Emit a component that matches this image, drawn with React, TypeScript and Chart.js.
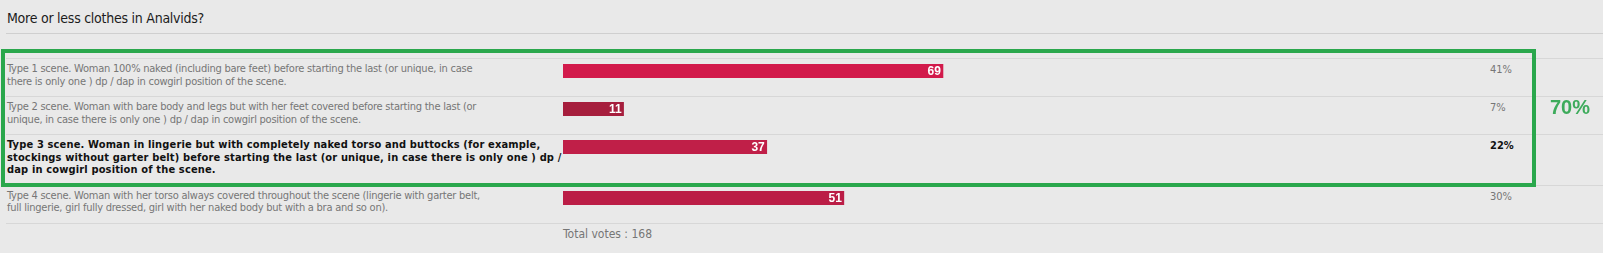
import React, { useEffect, useRef } from "react";
import { Chart, registerables } from "chart.js";

Chart.register(...registerables);

const TITLE = "More or less clothes in Analvids?";
const OPTION_LINES: string[][] = [
  [
    "Type 1 scene. Woman 100% naked (including bare feet) before starting the last (or unique, in case",
    "there is only one ) dp / dap in cowgirl position of the scene.",
  ],
  [
    "Type 2 scene. Woman with bare body and legs but with her feet covered before starting the last (or",
    "unique, in case there is only one ) dp / dap in cowgirl position of the scene.",
  ],
  [
    "Type 3 scene. Woman in lingerie but with completely naked torso and buttocks (for example,",
    "stockings without garter belt) before starting the last (or unique, in case there is only one ) dp /",
    "dap in cowgirl position of the scene.",
  ],
  [
    "Type 4 scene. Woman with her torso always covered throughout the scene (lingerie with garter belt,",
    "full lingerie, girl fully dressed, girl with her naked body but with a bra and so on).",
  ],
];
const VOTES = [69, 11, 37, 51];
const BAR_COLORS = ["#d21a4b", "#a61e3d", "#c01f48", "#bb1d46"];
const VOTED = [false, false, true, false];
const HIGHLIGHTED = [true, true, true, false];
const TOTAL_LABEL = "Total votes : ";
const X_MAX = 150;

const TOTAL = VOTES.reduce((a, b) => a + b, 0);
const PERCENTS = VOTES.map((v) => Math.round((v / TOTAL) * 100));
const HIGHLIGHT_SUM = PERCENTS.reduce((a, p, i) => (HIGHLIGHTED[i] ? a + p : a), 0);

const FONT = '"DejaVu Sans Condensed", "Liberation Sans", Arial, sans-serif';
const NUM_FONT = '"Liberation Sans", Arial, sans-serif';

function BarChart({ value, color }: { value: number; color: string }) {
  const ref = useRef<HTMLCanvasElement | null>(null);
  useEffect(() => {
    if (!ref.current) return;
    const chart = new Chart(ref.current, {
      type: "bar",
      data: {
        labels: [""],
        datasets: [
          {
            data: [value],
            backgroundColor: color,
            borderWidth: 0,
            barPercentage: 1,
            categoryPercentage: 1,
          },
        ],
      },
      options: {
        indexAxis: "y",
        animation: false,
        responsive: false,
        devicePixelRatio: 1,
        layout: { padding: 0 },
        plugins: { legend: { display: false }, tooltip: { enabled: false } },
        scales: {
          x: { min: 0, max: X_MAX, display: false },
          y: { display: false },
        },
      },
      plugins: [
        {
          id: "valueLabel",
          afterDatasetsDraw(c: any) {
            const ctx = c.ctx;
            const meta = c.getDatasetMeta(0);
            meta.data.forEach((bar: any, i: number) => {
              const v = c.data.datasets[0].data[i];
              ctx.save();
              ctx.fillStyle = "#ffffff";
              ctx.font = "bold 12px " + NUM_FONT;
              ctx.textAlign = "right";
              ctx.textBaseline = "middle";
              ctx.fillText(String(v), bar.x - 2, bar.y + 0.5);
              ctx.restore();
            });
          },
        },
      ],
    } as any);
    return () => chart.destroy();
  }, [value, color]);
  return (
    <canvas
      ref={ref}
      width={826}
      height={14}
      style={{ position: "absolute", left: 557, top: 5, display: "block" }}
    />
  );
}

export default function App() {
  useEffect(() => {
    document.body.style.margin = "0";
    document.body.style.background = "#e9e9e9";
  }, []);
  return (
    <div
      style={{
        position: "fixed",
        left: 0,
        top: 0,
        width: 1603,
        height: 253,
        background: "#e9e9e9",
        overflow: "hidden",
        fontFamily: FONT,
      }}
    >
      <div
        style={{
          position: "absolute",
          left: 7,
          top: 11,
          fontSize: 14,
          lineHeight: "14px",
          letterSpacing: "-0.25px",
          color: "#1c1c1c",
          whiteSpace: "nowrap",
        }}
      >
        {TITLE}
      </div>
      <div style={{ position: "absolute", left: 6, right: 0, top: 33, height: 1, background: "#cfcfcf" }} />
      <div style={{ position: "absolute", left: 6, right: 0, top: 58 }}>
        {OPTION_LINES.map((lines, i) => (
          <div
            key={i}
            style={{
              position: "relative",
              borderTop: "1px solid #d7d7d7",
              paddingTop: 4,
              paddingBottom: 8,
              fontSize: 11,
              lineHeight: "12.5px",
              color: VOTED[i] ? "#111" : "#767676",
              fontWeight: VOTED[i] ? "bold" : "normal",
            }}
          >
            <div
              style={{
                paddingLeft: 1,
                whiteSpace: "nowrap",
                letterSpacing: VOTED[i] ? "0.15px" : "-0.24px",
              }}
            >
              {lines.map((l, j) => (
                <div key={j}>{l}</div>
              ))}
            </div>
            <BarChart value={VOTES[i]} color={BAR_COLORS[i]} />
            <div style={{ position: "absolute", left: 1484, top: 5, whiteSpace: "nowrap" }}>
              {PERCENTS[i]}%
            </div>
          </div>
        ))}
        <div
          style={{
            borderTop: "1px solid #d7d7d7",
            paddingTop: 4,
            paddingLeft: 557,
            fontSize: 12,
            lineHeight: "12.5px",
            color: "#767676",
          }}
        >
          {TOTAL_LABEL}
          {TOTAL}
        </div>
      </div>
      <div
        style={{
          position: "absolute",
          left: 1,
          top: 49,
          width: 1535,
          height: 138,
          border: "4px solid #2aa74c",
          boxSizing: "border-box",
        }}
      />
      <div
        style={{
          position: "absolute",
          left: 1550,
          top: 97,
          fontSize: 20,
          lineHeight: "20px",
          fontWeight: "bold",
          fontFamily: NUM_FONT,
          color: "#3dab5b",
          whiteSpace: "nowrap",
        }}
      >
        {HIGHLIGHT_SUM}%
      </div>
    </div>
  );
}
